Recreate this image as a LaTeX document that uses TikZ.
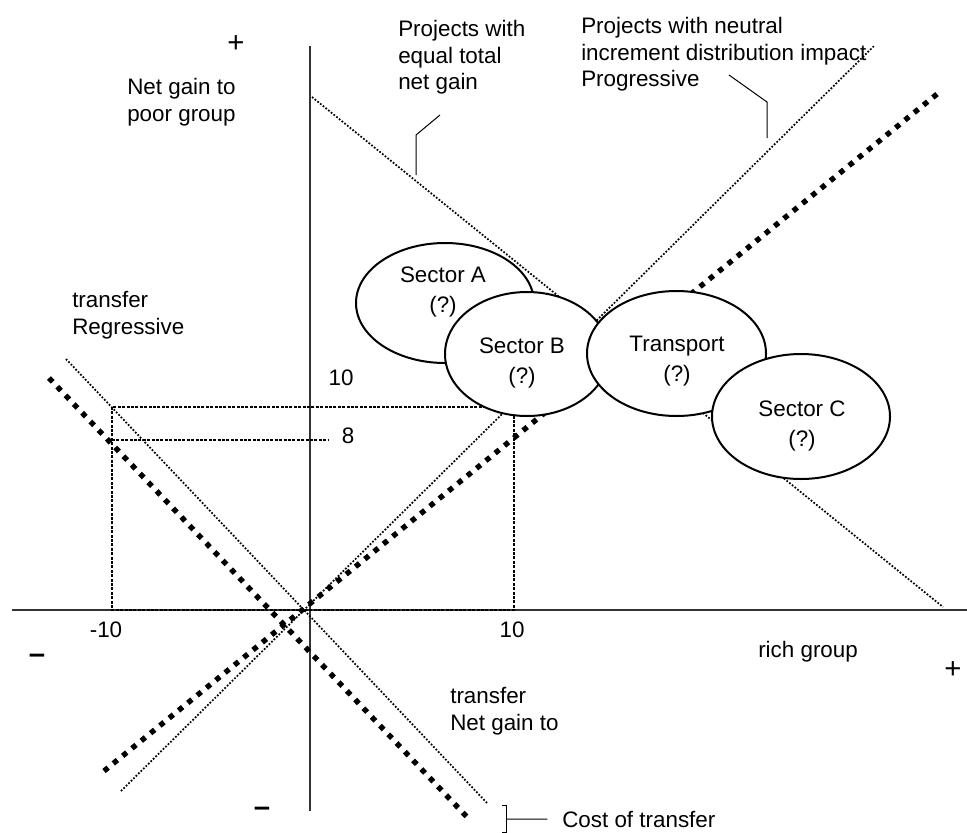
\documentclass[tikz,border=0pt]{standalone}
\usepackage{fontspec}
\setmainfont{Liberation Sans}
\usetikzlibrary{shapes.geometric}
\begin{document}
\begin{tikzpicture}[x=0.75pt,y=-0.75pt,
  every node/.style={font=\fontsize{16.8}{20}\selectfont, inner sep=0pt},
  axisline/.style={line width=1.1pt, black!80},
  thindot/.style={line width=1.3pt, dash pattern=on 1.3pt off 1.3pt},
  thickdot/.style={line width=4pt, dash pattern=on 4pt off 5pt},
  rectdot/.style={line width=2.2pt, dash pattern=on 2.2pt off 1.1pt},
  sector/.style={ellipse, draw, line width=1.5pt, fill=white, inner sep=0pt},
  sectortext/.style={align=center, font=\fontsize{16.8}{22.5}\selectfont},
  signtext/.style={font=\fontsize{22}{22}\selectfont},
  leader/.style={line width=0.75pt},
  lbl/.style={anchor=north west, align=left},
]
\useasboundingbox (0,0) rectangle (967,832);

% axes
\coordinate (vtop) at (310,46);
\coordinate (vbot) at (310,811);
\coordinate (hl) at (12,610);
\coordinate (hr) at (967,610);
\draw[axisline] (vtop) -- (vbot);
\draw[axisline] (hl) -- (hr);

% dotted rectangle and the 8 line
\coordinate (r1) at (112,407);
\coordinate (r2) at (514,610);
\draw[rectdot] (r1) rectangle (r2);
\coordinate (e1) at (112,440);
\coordinate (e2) at (328,440);
\draw[rectdot] (e1) -- (e2);

% thin dotted lines
\coordinate (tf1) at (66,359);
\coordinate (tf2) at (487,803);
\coordinate (tr1) at (121,791);
\coordinate (tr2) at (874,46);
\coordinate (eq1) at (312,97);
\coordinate (eq2) at (943,607);
\draw[thindot] (tf1) -- (tf2);
\draw[thindot] (tr1) -- (tr2);
\draw[thindot] (eq1) -- (eq2);

% thick diamond lines
\coordinate (kf1) at (49,378);
\coordinate (kf2) at (467,817);
\coordinate (kr1) at (104,771);
\coordinate (kr2) at (942,90);
\draw[thickdot] (kf1) -- (kf2);
\draw[thickdot] (kr1) -- (kr2);

% sectors
\node[sector, minimum width=133.5pt, minimum height=90pt] (sa) at (445,303) {};
\node[sector, minimum width=123pt, minimum height=93pt] (sb) at (527,354) {};
\node[sector, minimum width=134.25pt, minimum height=93.75pt] (tp) at (676.5,353.5) {};
\node[sector, minimum width=133.5pt, minimum height=93.75pt] (sc) at (801,416.5) {};
\node[sectortext] (sat) at (443,292) {Sector A\\(?)};
\node[sectortext] (sbt) at (522,363) {Sector B\\(?)};
\node[sectortext] (tpt) at (677,361) {Transport\\(?)};
\node[sectortext] (sct) at (802,426) {Sector C\\(?)};

% labels
\node[lbl] (poor) at (127,78) {Net gain to\\poor group};
\node[lbl] (eqlbl) at (398,20) {Projects with\\equal total\\net gain};
\node[lbl] (neut) at (581,17) {Projects with neutral\\increment distribution impact\\Progressive};
\node[lbl] (regr) at (72,291) {transfer\\Regressive};
\node[lbl] (ngt) at (450,687) {transfer\\Net gain to};
\node[anchor=base west] (cost) at (562,827) {Cost of transfer};
\node[anchor=west] (rich) at (758,652) {rich group};
\node (m10) at (106,630) {-10};
\node (p10) at (512,630) {10};
\node (y10) at (341,378) {10};
\node (y8) at (348,436) {8};
\node[signtext] (plt) at (236,44) {+};
\node[signtext] (plr) at (953,670) {+};
\node[signtext] (mnl) at (37,659) {\textbf{–}};
\node[signtext] (mnb) at (262,812) {\textbf{–}};

% leaders
\coordinate (q1) at (440,115);
\coordinate (q2) at (416,135);
\coordinate (q3) at (416,175);
\draw[leader] (q1) -- (q2) -- (q3);
\coordinate (p1) at (729,75);
\coordinate (p2) at (767,102);
\coordinate (p3) at (767,138);
\draw[leader] (p1) -- (p2) -- (p3);
\coordinate (b1) at (502,805);
\coordinate (b2) at (506,805);
\coordinate (b3) at (506,832);
\coordinate (b4) at (502,832);
\coordinate (bm) at (506,819);
\draw[leader] (b1) -- (b2) -- (b3) -- (b4);
\draw[leader] (bm) -- ([xshift=-11pt]cost.west);
\end{tikzpicture}
\end{document}
